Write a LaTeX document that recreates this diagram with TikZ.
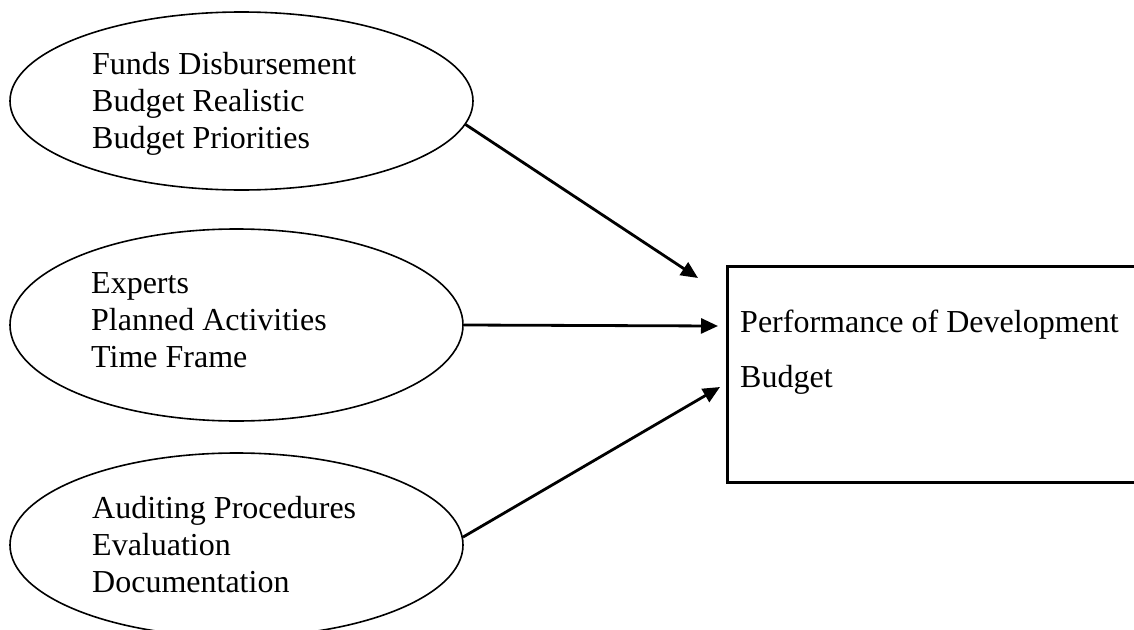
\documentclass[tikz,border=0pt]{standalone}
\usepackage{fontspec}
\setmainfont{Liberation Serif}
\usetikzlibrary{shapes.geometric,arrows.meta}
\begin{document}
\begin{tikzpicture}[x=1pt,y=-1pt,
  factor/.style={ellipse,draw,line width=1.6pt,inner sep=0pt},
  label/.style={anchor=base west,inner sep=0pt,font=\fontsize{32}{37}\selectfont},
  outcome/.style={rectangle,draw,line width=2.8pt,inner sep=0pt,anchor=north west},
  link/.style={line width=2.8pt,-{Triangle[length=17pt,width=15pt]}}]
\useasboundingbox (0,0) rectangle (1134,629);
\clip (0,0) rectangle (1134,629);

% independent variables
\node[factor,minimum width=463pt,minimum height=178pt] (e1) at (241.5,101) {};
\node[factor,minimum width=453pt,minimum height=192pt] (e2) at (236.5,325) {};
\node[factor,minimum width=453pt,minimum height=184pt] (e3) at (236.5,545) {};

\node[label] (t1a) at (92,74)  {Funds Disbursement};
\node[label] (t1b) at (92,111) {Budget Realistic};
\node[label] (t1c) at (92,148) {Budget Priorities};

\node[label] (t2a) at (91,293) {Experts};
\node[label] (t2b) at (91,330) {Planned Activities};
\node[label] (t2c) at (91,367) {Time Frame};

\node[label] (t3a) at (92,518) {Auditing Procedures};
\node[label] (t3b) at (92,555) {Evaluation};
\node[label] (t3c) at (92,592) {Documentation};

% dependent variable
\node[outcome,minimum width=440pt,minimum height=216pt] (box) at (726,265) {};
\node[label] (b1) at (740,332) {Performance of Development};
\node[label] (b2) at (740,387) {Budget};

% arrow ends in front of the box
\coordinate (in1) at (698,278);
\coordinate (in2) at (718,326);
\coordinate (in3) at (720,387);

\draw[link] (e1.-6) -- (in1);
\draw[link] (e2.-0.3) -- (in2);
\draw[link] (e3.2) -- (in3);
\end{tikzpicture}
\end{document}
